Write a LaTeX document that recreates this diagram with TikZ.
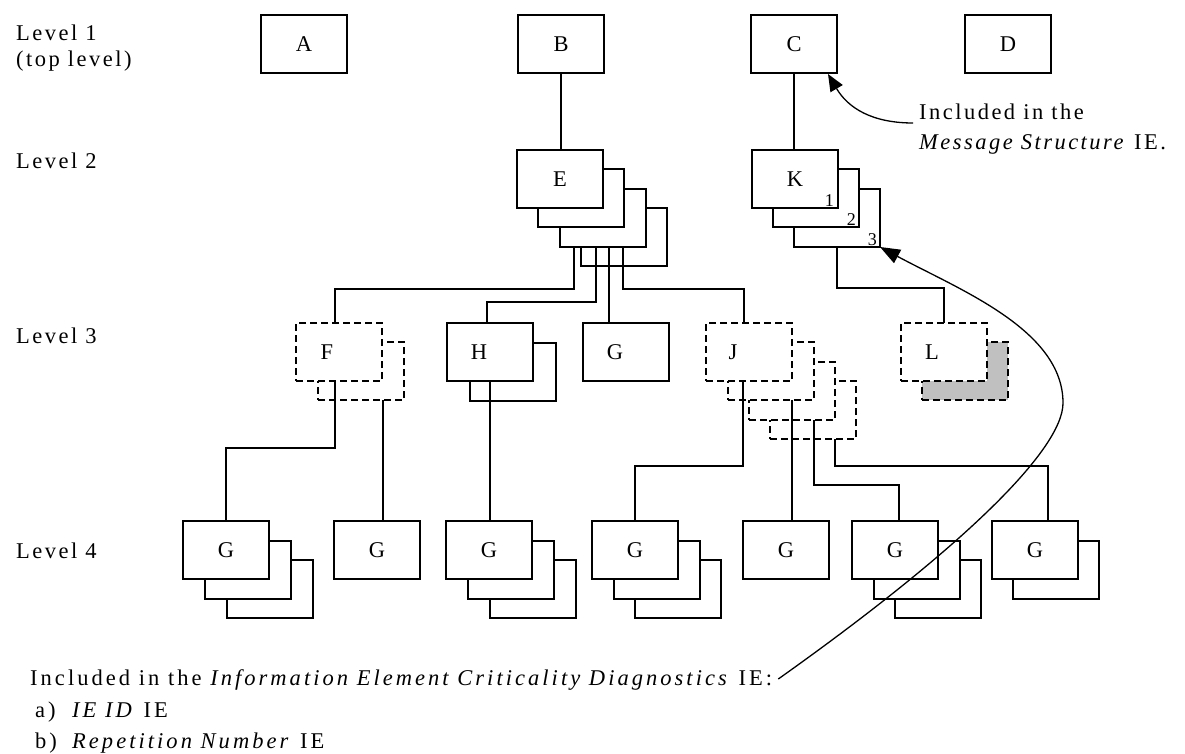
\documentclass[tikz,border=0pt]{standalone}
\usepackage{fontspec}
\setmainfont{Liberation Serif}[LetterSpace=11]
\newfontfamily\widefont{Liberation Serif}[LetterSpace=13.5]
\usetikzlibrary{arrows.meta,calc}
\definecolor{lgray}{RGB}{192,192,192}
\begin{document}
\begin{tikzpicture}[x=1pt,y=-1pt,
  every node/.style={font=\fontsize{22.5}{27}\selectfont},
  box/.style={draw, fill=white, line width=1.3pt, minimum width=86pt, minimum height=58pt, anchor=north west, inner sep=0pt, outer sep=0pt},
  dbox/.style={box, dash pattern=on 7pt off 4pt, line width=1.8pt},
  conn/.style={line width=1.3pt},
  lbl/.style={anchor=base west, inner sep=0pt},
  wlbl/.style={lbl, font=\widefont\fontsize{22.5}{27}\selectfont},
  num/.style={anchor=base east, inner sep=0pt, font=\fontsize{18}{20}\selectfont},
  bigtip/.style={-{Triangle[length=20pt,width=15pt]}}]
\path[use as bounding box, fill=white] (0,0) rectangle (1185,754);

% level labels
\node[lbl] (lv1) at (16,41) {Level 1};
\node[lbl] (lv1b) at (16,67) {(top level)};
\node[lbl] (lv2) at (16,168) {Level 2};
\node[lbl] (lv3) at (16,343) {Level 3};
\node[lbl] (lv4) at (16,558) {Level 4};

% level 1
\node[box] (A) at (261,15) {A};
\node[box] (B) at (518,15) {B};
\node[box] (C) at (751,15) {C};
\node[box] (D) at (965,15) {D};

% level 2
\node[box] (E4) at (581,208) {};
\node[box] (E3) at (560,189) {};
\node[box] (E2) at (538,169) {};
\node[box] (E) at (517,150) {E};

\node[box] (K3) at (794,189) {};
\node[box] (K2) at (773,169) {};
\node[box] (K) at (752,150) {K};
\node[num] (n1) at ([xshift=-4pt,yshift=2pt]K.south east) {1};
\node[num] (n2) at ([xshift=-3pt,yshift=2pt]K2.south east) {2};
\node[num] (n3) at ([xshift=-3pt,yshift=2pt]K3.south east) {3};

% level 3
\node[dbox] (F2) at (318,342) {};
\node[dbox, label={[xshift=-12pt]center:F}] (F) at (296,323) {};
\node[box] (H2) at (470,343) {};
\node[box, label={[xshift=-11pt]center:H}] (H) at (447,323) {};
\node[box, label={[xshift=-11pt]center:G}] (GL3) at (583,323) {};
\node[dbox] (J4) at (770,381) {};
\node[dbox] (J3) at (749,362) {};
\node[dbox] (J2) at (728,342) {};
\node[dbox, label={[xshift=-16pt]center:J}] (J) at (706,323) {};
\node[dbox, fill=lgray] (L2) at (922,342) {};
\node[dbox, label={[xshift=-12pt]center:L}] (L) at (901,323) {};

% level 4
\node[box] (G1c) at (227,560) {};
\node[box] (G1b) at (205,541) {};
\node[box] (G1) at (183,521) {G};
\node[box] (G2) at (334,521) {G};
\node[box] (G3c) at (490,560) {};
\node[box] (G3b) at (468,541) {};
\node[box] (G3) at (446,521) {G};
\node[box] (G4c) at (635,560) {};
\node[box] (G4b) at (614,541) {};
\node[box] (G4) at (592,521) {G};
\node[box] (G5) at (743,521) {G};
\node[box] (G6c) at (895,560) {};
\node[box] (G6b) at (874,541) {};
\node[box] (G6) at (852,521) {G};
\node[box] (G7b) at (1013,541) {};
\node[box] (G7) at (992,521) {G};

% connectors level 1 -> 2
\draw[conn] (B.south) -- (B.south |- E.north);
\draw[conn] (C.south) -- (C.south |- K.north);

% E -> level 3
\draw[conn] ([xshift=14pt]E3.south west) -- ++(0,42) -| ([xshift=-4pt]F.north);
\draw[conn] ([xshift=36pt]E3.south west) -- ++(0,55) -| ([xshift=-3pt]H.north);
\draw[conn] ([xshift=49pt]E3.south west) coordinate (eg) -- (eg |- GL3.north);
\draw[conn] ([xshift=63pt]E3.south west) -- ++(0,42) -| ([xshift=-5pt]J.north);
% K -> L
\draw[conn] (K3.south) -- ++(0,41) -| (L.north);

% level 3 -> level 4
\draw[conn] ([xshift=-4pt]F.south) -- ++(0,67) -| (G1.north);
\draw[conn] ([xshift=22pt]F2.south) coordinate (f2) -- (f2 |- G2.north);
\draw[conn] (H.south) -- (H.south |- G3.north);
\draw[conn] ([xshift=-6pt]J.south) -- ++(0,85) -| (G4.north);
\draw[conn] ([xshift=21pt]J2.south) coordinate (j2) -- (j2 |- G5.north);
\draw[conn] ([xshift=22pt]J3.south) -- ++(0,65) -| ([xshift=4pt]G6.north);
\draw[conn] ([xshift=22pt]J4.south) -- ++(0,27) -| ([xshift=13pt]G7.north);

% annotation: message structure
\node[lbl] (msg1) at (919,120) {Included in the};
\node[lbl] (msg2) at (919,150) {\textit{Message Structure} IE.};
\draw[conn, -{Triangle[length=17pt,width=14pt]}] ([xshift=-6pt,yshift=-3pt]msg1.base west) .. controls (872,123) and (848,108) .. ([xshift=-9pt,yshift=-1pt]C.south east);

% annotation: criticality diagnostics
\node[wlbl] (ied) at (30,685) {Included in the \textit{Information Element Criticality Diagnostics} IE:};
\node[wlbl] (ia) at (35,717) {a)};
\node[wlbl] (iat) at (72,717) {\textit{IE ID} IE};
\node[wlbl] (ib) at (35,748) {b)};
\node[wlbl] (ibt) at (72,748) {\textit{Repetition Number} IE};
\draw[conn, bigtip] ([xshift=6pt,yshift=6pt]ied.base east) .. controls (960,550) and (1063,450) .. (1063,403) .. controls (1063,330) and (960,290) .. (K3.south east);
\end{tikzpicture}
\end{document}
